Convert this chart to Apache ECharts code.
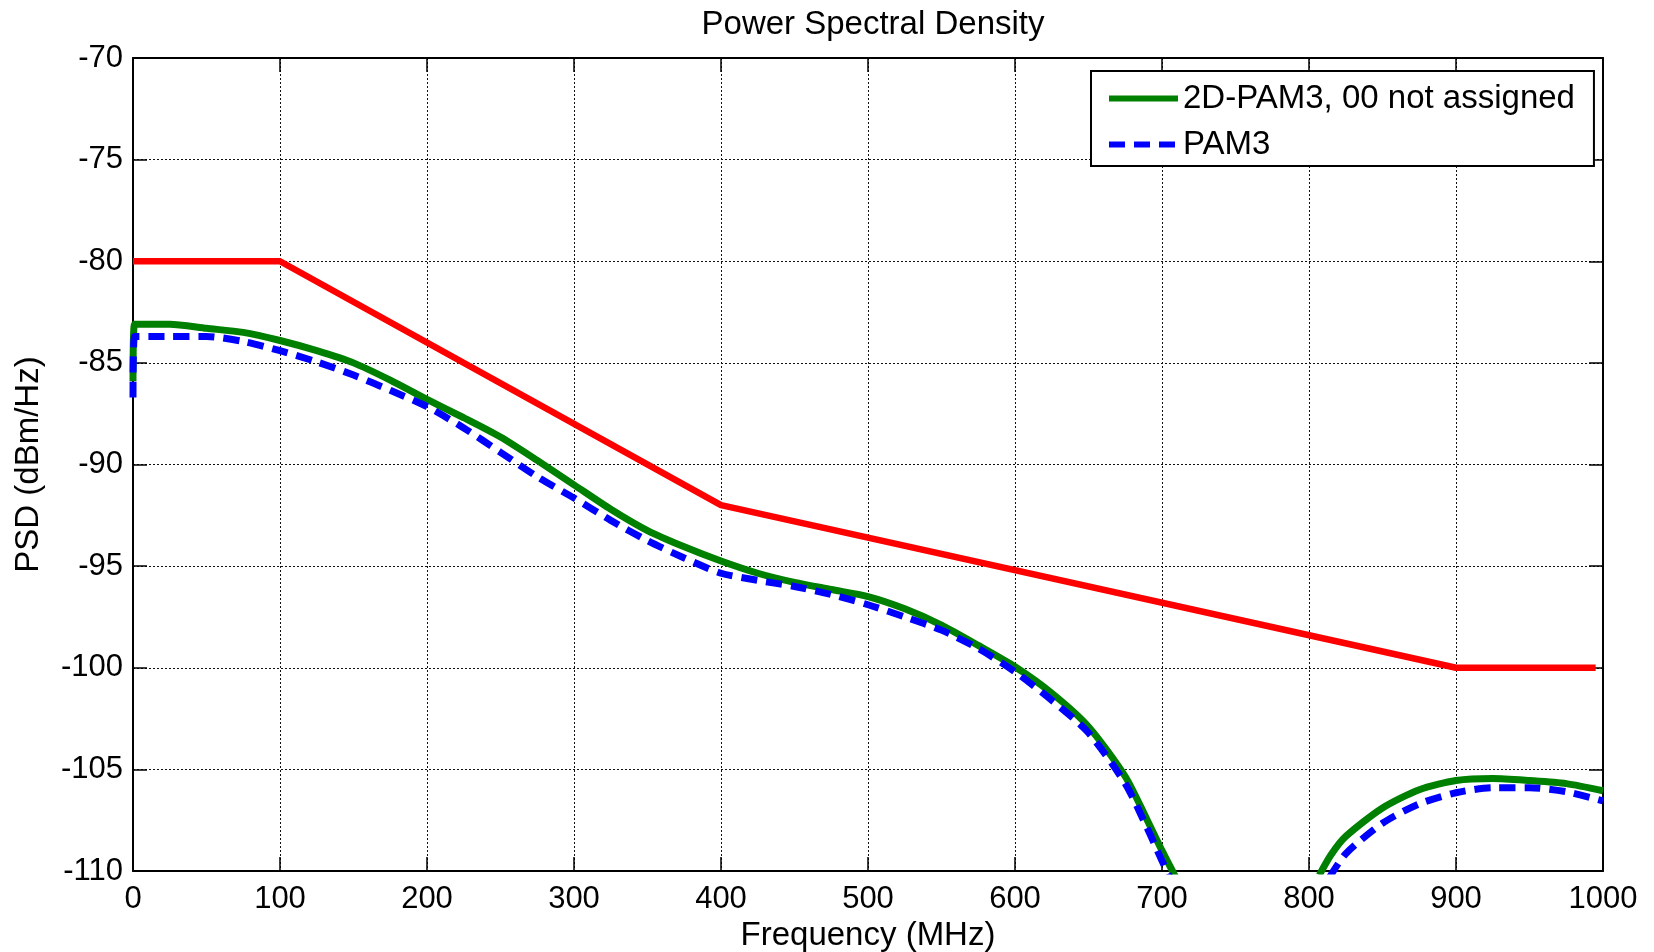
<!DOCTYPE html>
<html>
<head>
<meta charset="utf-8">
<script src="https://cdn.jsdelivr.net/npm/echarts@6/dist/echarts.min.js"></script>
<style>
html,body{margin:0;padding:0;background:#fff;}
#chart{width:1654px;height:952px;}
</style>
</head>
<body>
<div id="chart"></div>
<script>
// ---- data ----
const titleText = 'Power Spectral Density';
const xAxisName = 'Frequency (MHz)';
const yAxisName = 'PSD (dBm/Hz)';
const seriesNames = ['2D-PAM3, 00 not assigned', 'PAM3', 'Mask'];

const xTicks = [0, 100, 200, 300, 400, 500, 600, 700, 800, 900, 1000];
const yTicks = [-110, -105, -100, -95, -90, -85, -80, -75, -70];

const freqGreen = [0, 1, 25, 50, 75, 100, 125, 150, 175, 200, 225, 250, 275, 300, 325, 350, 375, 400,
  425, 450, 475, 500, 525, 550, 575, 600, 625, 650, 675, 690, 700, 710, 760,
  807, 815, 825, 850, 875, 900, 925, 950, 975, 1000];
const psdGreen = [-85.9, -83.1, -83.1, -83.3, -83.5, -83.9, -84.4, -85.0, -85.85, -86.8, -87.7, -88.65, -89.8, -91.0, -92.2, -93.25, -94.05, -94.75,
  -95.35, -95.8, -96.15, -96.5, -97.1, -97.9, -98.9, -99.95, -101.25, -102.9, -105.35, -107.5, -109.0, -110.4, null,
  -110.2, -109.2, -108.3, -106.9, -106.0, -105.55, -105.45, -105.55, -105.7, -106.05];

const freqBlue = [0, 1, 25, 50, 75, 100, 125, 150, 175, 200, 225, 250, 275, 300, 325, 350, 375, 400,
  425, 450, 475, 500, 525, 550, 575, 600, 625, 650, 675, 690, 700, 706, 760,
  814, 825, 850, 875, 900, 925, 950, 975, 1000];
const psdBlue = [-86.7, -83.7, -83.7, -83.7, -83.95, -84.4, -84.95, -85.6, -86.35, -87.15, -88.2, -89.4, -90.6, -91.65, -92.75, -93.75, -94.6, -95.35,
  -95.7, -96.0, -96.4, -96.9, -97.5, -98.15, -99.05, -100.2, -101.6, -103.2, -105.7, -107.9, -109.5, -110.4, null,
  -110.3, -109.15, -107.65, -106.7, -106.15, -105.9, -105.9, -106.1, -106.55];

const freqMask = [0, 100, 400, 900, 995];
const psdMask = [-80, -80, -92, -100, -100];

// ---- build ----
const zip = (xs, ys) => xs.map((x, i) => [x, ys[i] === null ? '-' : ys[i]]);
const FONT = "'Liberation Sans', Arial, Helvetica, sans-serif";

const chart = echarts.init(document.getElementById('chart'), null, {renderer: 'canvas'});

const gridLine = {show: true, lineStyle: {color: '#111', width: 1, type: [2, 2]}};
const axisLine = {show: true, onZero: false, lineStyle: {color: '#000', width: 2}};
const tick = {show: true, inside: true, length: 14, lineStyle: {color: '#000', width: 1.5}};

chart.setOption({
  animation: false,
  backgroundColor: '#fff',
  title: {
    text: titleText,
    left: 868,
    top: 3,
    textAlign: 'center',
    textStyle: {fontFamily: FONT, fontSize: 33, fontWeight: 'normal', color: '#000'}
  },
  legend: {
    orient: 'vertical',
    left: 1091,
    top: 71,
    data: [
      {name: seriesNames[0], itemStyle: {opacity: 0}, lineStyle: {width: 6, color: '#008000'}},
      {name: seriesNames[1], itemStyle: {opacity: 0}, lineStyle: {width: 6, color: '#0000ff', type: [16, 9]}}
    ],
    backgroundColor: '#fff',
    borderColor: '#000',
    borderWidth: 2,
    borderRadius: 0,
    padding: [10, 19, 4, 15],
    itemWidth: 69,
    itemHeight: 14,
    itemGap: 11,
    textStyle: {fontFamily: FONT, fontSize: 33, color: '#000', lineHeight: 35}
  },
  grid: {left: 133, right: 51, top: 58, bottom: 81, containLabel: false, outerBoundsMode: 'none'},
  xAxis: [{
    type: 'value', min: 0, max: 1000, interval: 100,
    name: xAxisName, nameLocation: 'middle', nameGap: 46,
    nameTextStyle: {fontFamily: FONT, fontSize: 33, color: '#000'},
    axisLine: axisLine, axisTick: tick, splitLine: gridLine,
    axisLabel: {fontFamily: FONT, fontSize: 31, color: '#000', margin: 13,
      formatter: v => xTicks.includes(v) ? String(v) : ''}
  }, {
    type: 'value', min: 0, max: 1000, interval: 100, position: 'top',
    axisLine: axisLine, axisTick: tick, splitLine: {show: false}, axisLabel: {show: false}
  }],
  yAxis: [{
    type: 'value', min: -110, max: -70, interval: 5,
    name: yAxisName, nameLocation: 'middle', nameGap: 88, nameRotate: 90,
    nameTextStyle: {fontFamily: FONT, fontSize: 33, color: '#000'},
    axisLine: axisLine, axisTick: tick, splitLine: gridLine,
    axisLabel: {fontFamily: FONT, fontSize: 31, color: '#000', margin: 10,
      formatter: v => yTicks.includes(v) ? String(v) : ''}
  }, {
    type: 'value', min: -110, max: -70, interval: 5, position: 'right',
    axisLine: axisLine, axisTick: tick, splitLine: {show: false}, axisLabel: {show: false}
  }],
  series: [{
    name: seriesNames[0], type: 'line', data: zip(freqGreen, psdGreen),
    showSymbol: false, symbol: 'none', clip: true, connectNulls: false, smooth: 0.25,
    lineStyle: {color: '#008000', width: 7}, itemStyle: {color: '#008000'}, z: 3
  }, {
    name: seriesNames[1], type: 'line', data: zip(freqBlue, psdBlue),
    showSymbol: false, symbol: 'none', clip: true, connectNulls: false, smooth: 0.25,
    lineStyle: {color: '#0000ff', width: 7, type: [16, 9]}, itemStyle: {color: '#0000ff'}, z: 4
  }, {
    name: seriesNames[2], type: 'line', data: zip(freqMask, psdMask),
    showSymbol: false, symbol: 'none', clip: true,
    lineStyle: {color: '#ff0000', width: 6.5}, itemStyle: {color: '#ff0000'}, z: 2
  }]
});
</script>
</body>
</html>
